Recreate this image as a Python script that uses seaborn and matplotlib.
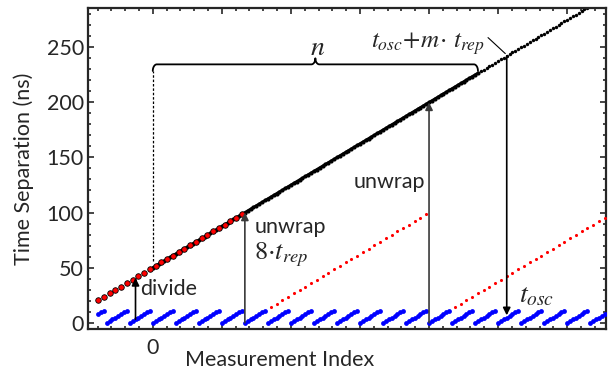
import numpy as np
import pandas as pd
import matplotlib
matplotlib.use('Agg')
import matplotlib.pyplot as plt
from matplotlib.ticker import MultipleLocator, FuncFormatter
import seaborn as sns

# measurement index of every plotted point
index = np.arange(-38, 316, 2)

# unwrapped time separation (ns), one row per t_rep period
time_ns = [
    20.31, 21.88, 23.44, 25.00, 26.56, 28.13, 29.69, 31.25,
    32.81, 34.38, 35.94, 37.50, 39.06, 40.63, 42.19, 43.75,
    45.31, 46.88, 48.44, 50.00, 51.56, 53.13, 54.69, 56.25,
    57.81, 59.38, 60.94, 62.50, 64.06, 65.63, 67.19, 68.75,
    70.31, 71.88, 73.44, 75.00, 76.56, 78.13, 79.69, 81.25,
    82.81, 84.38, 85.94, 87.50, 89.06, 90.63, 92.19, 93.75,
    95.31, 96.88, 98.44, 100.00, 101.56, 103.13, 104.69, 106.25,
    107.81, 109.38, 110.94, 112.50, 114.06, 115.63, 117.19, 118.75,
    120.31, 121.88, 123.44, 125.00, 126.56, 128.13, 129.69, 131.25,
    132.81, 134.38, 135.94, 137.50, 139.06, 140.63, 142.19, 143.75,
    145.31, 146.88, 148.44, 150.00, 151.56, 153.13, 154.69, 156.25,
    157.81, 159.38, 160.94, 162.50, 164.06, 165.63, 167.19, 168.75,
    170.31, 171.88, 173.44, 175.00, 176.56, 178.13, 179.69, 181.25,
    182.81, 184.38, 185.94, 187.50, 189.06, 190.63, 192.19, 193.75,
    195.31, 196.88, 198.44, 200.00, 201.56, 203.13, 204.69, 206.25,
    207.81, 209.38, 210.94, 212.50, 214.06, 215.63, 217.19, 218.75,
    220.31, 221.88, 223.44, 225.00, 226.56, 228.13, 229.69, 231.25,
    232.81, 234.38, 235.94, 237.50, 239.06, 240.63, 242.19, 243.75,
    245.31, 246.88, 248.44, 250.00, 251.56, 253.13, 254.69, 256.25,
    257.81, 259.38, 260.94, 262.50, 264.06, 265.63, 267.19, 268.75,
    270.31, 271.88, 273.44, 275.00, 276.56, 278.13, 279.69, 281.25,
    282.81, 284.38, 285.94, 287.50, 289.06, 290.63, 292.19, 293.75,
    295.31,
]

t_rep = 12.5            # ns
unwrap_step = 100.0     # 8 * t_rep
n_end = 226             # last index inside the n-brace
divide_idx = -12
unwrap_idx = [64, 192]
osc_idx = 246

sns.set_style('ticks')
plt.rcParams['font.family'] = ['Lato', 'DejaVu Sans']
plt.rcParams['mathtext.fontset'] = 'stix'
plt.rcParams['axes.linewidth'] = 1.6

df = pd.DataFrame({'idx': index, 'time': time_ns})
df['wrapped'] = df['time'] % t_rep
df['unwrap100'] = df['time'] % unwrap_step
every4 = (df['idx'] + 38) % 4 == 0

fig = plt.figure(figsize=(6.13, 3.69), dpi=100)
ax = fig.add_axes([0.1436, 0.1076, 0.845, 0.8702])

black = df[df['idx'] >= 0]
inside = black[black['idx'] <= n_end]
outside = black[black['idx'] > n_end]
sns.lineplot(data=inside, x='idx', y='time', color='black', lw=2.0, ax=ax, zorder=2)
sns.scatterplot(data=inside, x='idx', y='time', color='black', s=9, linewidth=0, ax=ax, zorder=2)
sns.scatterplot(data=outside, x='idx', y='time', color='black', s=6, linewidth=0, ax=ax, zorder=2)

red_big = df[(df['idx'] < 64) & every4]
sns.scatterplot(data=red_big, x='idx', y='time', color='red', s=16,
                edgecolor='black', linewidth=0.6, ax=ax, zorder=3)
red_small = df[(df['idx'] >= 64) & every4]
sns.scatterplot(data=red_small, x='idx', y='unwrap100', color='red', s=5,
                linewidth=0, ax=ax, zorder=3)

sns.scatterplot(data=df, x='idx', y='wrapped', color='blue', s=12, linewidth=0,
                ax=ax, zorder=4)

def val(i, col):
    return df.loc[df['idx'] == i, col].iloc[0]

arrow = dict(arrowstyle='-|>', color='black', lw=1.2, mutation_scale=11,
             shrinkA=0, shrinkB=0)
gray_arrow = dict(arrow, color='#3a3a3a')
ax.annotate('', xy=(divide_idx, val(divide_idx, 'time')),
            xytext=(divide_idx, val(divide_idx, 'wrapped')), arrowprops=arrow, zorder=5)
for i in unwrap_idx:
    ax.annotate('', xy=(i, val(i, 'time')), xytext=(i, val(i, 'wrapped')),
                arrowprops=gray_arrow, zorder=5)
ax.annotate('', xy=(osc_idx, val(osc_idx, 'wrapped') + 2),
            xytext=(osc_idx, val(osc_idx, 'time')), arrowprops=arrow, zorder=5)

# brace marking the n measurements
by, rx, ry = 234.5, 2.8, 6.0
cx, crx, cry = n_end / 2, 2.8, 5.5
th = np.linspace(0, np.pi / 2, 20)
left_arc = (rx - rx * np.cos(th), by - ry + ry * np.sin(th))
mid_l = (cx - crx + crx * np.sin(th), by + cry - cry * np.cos(th))
mid_r = (cx + crx - crx * np.sin(th[::-1]), by + cry - cry * np.cos(th[::-1]))
right_arc = (n_end - rx + rx * np.sin(th), by - ry + ry * np.cos(th))
bx = np.concatenate([left_arc[0], mid_l[0], mid_r[0], right_arc[0]])
byy = np.concatenate([left_arc[1], mid_l[1], mid_r[1], right_arc[1]])
ax.plot(bx, byy, color='black', lw=1.3, zorder=5)
ax.plot([0, 0], [56, by - ry], color='black', lw=0.9, ls=(0, (2, 1.5)), zorder=5)
ax.text(cx + 1.5, 250, '$n$', fontsize=20, ha='center', va='center')

# leader to the t_osc + m t_rep point
ax.plot([233, 245], [258.8, 244.3], color='black', lw=0.8)
ax.text(231, 253, r'$t_{osc}\!+\!m\!\cdot\,t_{rep}$', fontsize=18, ha='right', va='center')

ax.text(-8.5, 30.5, 'divide', fontsize=15.5, ha='left', va='center')
ax.text(71, 87, 'unwrap', fontsize=15.5, ha='left', va='center')
ax.text(70.5, 62, r'$\mathit{8}{\cdot}t_{rep}$', fontsize=19, ha='left', va='center')
ax.text(189.5, 128, 'unwrap', fontsize=15.5, ha='right', va='center')
ax.text(254.5, 25, r'$t_{osc}$', fontsize=20, ha='left', va='center')

ax.set_xlim(-45, 315)
ax.set_ylim(-6, 285.5)
ax.xaxis.set_major_locator(MultipleLocator(48))
ax.xaxis.set_minor_locator(MultipleLocator(9.6))
ax.xaxis.set_major_formatter(FuncFormatter(lambda v, p: '0' if abs(v) < 1e-6 else ''))
ax.yaxis.set_major_locator(MultipleLocator(50))
ax.yaxis.set_minor_locator(MultipleLocator(10))
ax.tick_params(which='both', direction='in', top=True, right=True, width=1.2, labelsize=15.5)
ax.tick_params(which='major', length=4.5)
ax.tick_params(which='minor', length=2.5)
ax.tick_params(axis='x', pad=6)
ax.tick_params(axis='y', pad=3)

ax.set_xlabel('Measurement Index', fontsize=15.5, va='center')
ax.xaxis.set_label_coords(0.37, -0.096)
ax.set_ylabel('Time Separation (ns)', fontsize=15.5, va='center')
ax.yaxis.set_label_coords(-0.125, 0.5)

fig.savefig('out.png', dpi=100)
